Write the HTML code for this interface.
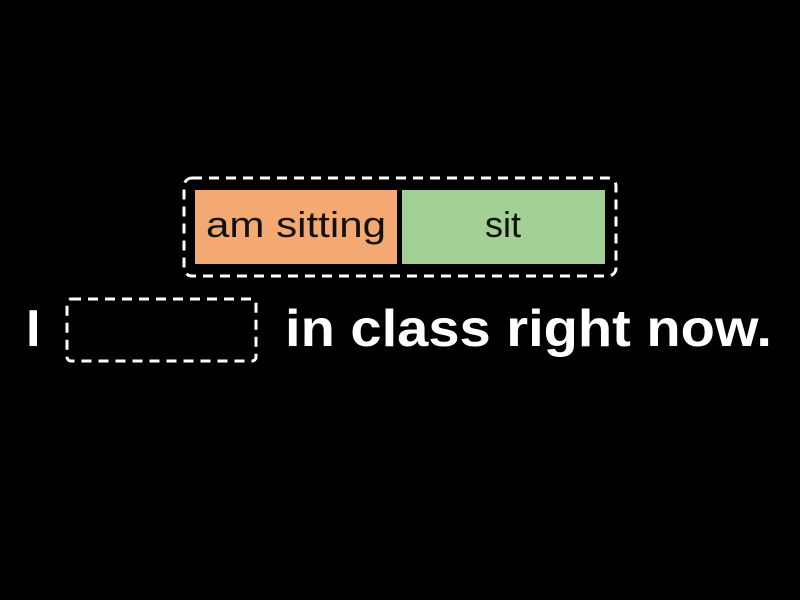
<!DOCTYPE html>
<html><head><style>html,body{margin:0;padding:0;background:#000;width:800px;height:600px;overflow:hidden}</style></head>
<body>
<svg width="800" height="600" xmlns="http://www.w3.org/2000/svg" style="display:block">
<rect width="800" height="600" fill="#000"/>
<rect x="184" y="178" width="432" height="98" rx="8" fill="none" stroke="#fff" stroke-width="3" stroke-dasharray="10,7"/>
<rect x="195" y="190" width="202" height="74" fill="#f4a872"/>
<rect x="402" y="190" width="203" height="74" fill="#a2d095"/>
<text x="296" y="237" font-family="Liberation Sans, sans-serif" font-size="36" fill="#111" text-anchor="middle" textLength="180" lengthAdjust="spacingAndGlyphs">am sitting</text>
<text x="503" y="237" font-family="Liberation Sans, sans-serif" font-size="36" fill="#111" text-anchor="middle">sit</text>
<rect x="67" y="299" width="189" height="62" rx="4" fill="none" stroke="#fff" stroke-width="3" stroke-dasharray="10,7"/>
<text x="26" y="346" font-family="Liberation Sans, sans-serif" font-weight="bold" font-size="52" fill="#fff">I</text>
<text x="285" y="346" font-family="Liberation Sans, sans-serif" font-weight="bold" font-size="52" fill="#fff" textLength="487" lengthAdjust="spacingAndGlyphs">in class right now.</text>
</svg>
</body></html>
